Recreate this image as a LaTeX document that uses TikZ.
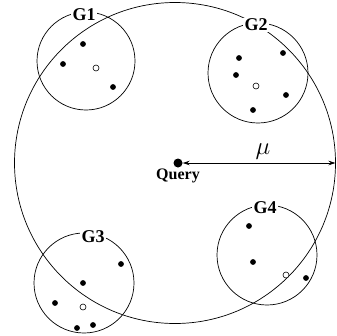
\documentclass[tikz,border=0pt]{standalone}
\usepackage{fontspec}
\setmainfont{Liberation Serif}
\usetikzlibrary{arrows.meta}
\begin{document}
\begin{tikzpicture}[x=1pt,y=-1pt,
  ring/.style={draw,line width=0.7pt},
  pt/.style={circle,fill,inner sep=0pt,minimum size=5.8pt},
  opt/.style={circle,draw,fill=white,line width=0.6pt,inner sep=0pt,minimum size=6pt},
  glabel/.style={fill=white,inner sep=1.2pt,font=\fontsize{18}{18}\selectfont\bfseries}]
\useasboundingbox (0,0) rectangle (337,335);
% big circle
\draw[ring] (175,163) circle (160.5);
% group circles
\draw[ring] (86,61) circle (49);
\draw[ring] (258,73) circle (50);
\draw[ring] (84,283) circle (50);
\draw[ring] (267,255) circle (50);
% labels
\node[glabel] (g1) at (84,15) {G1};
\node[glabel] (g2) at (256,25) {G2};
\node[glabel] (g3) at (93,237) {G3};
\node[glabel] (g4) at (265,208) {G4};
% G1 points
\node[pt] (a1) at (83,44) {};
\node[pt] (a2) at (63,64) {};
\node[pt] (a3) at (113,87) {};
\node[opt] (a0) at (96,68) {};
% G2 points
\node[pt] (b1) at (239,58) {};
\node[pt] (b2) at (283,53) {};
\node[pt] (b3) at (236,75) {};
\node[pt] (b4) at (286,95) {};
\node[pt] (b5) at (253,110) {};
\node[opt] (b0) at (256,86) {};
% G3 points
\node[pt] (c1) at (121,264) {};
\node[pt] (c2) at (83,283) {};
\node[pt] (c3) at (55,303) {};
\node[pt] (c4) at (77,328) {};
\node[pt] (c5) at (93,325) {};
\node[opt] (c0) at (83,307) {};
% G4 points
\node[pt] (d1) at (249,226) {};
\node[pt] (d2) at (253,262) {};
\node[pt] (d3) at (306,278) {};
\node[opt] (d0) at (286,275) {};
% query
\node[circle,fill,inner sep=0pt,minimum size=9pt] (q) at (178,163) {};
\node[font=\fontsize{16}{16}\selectfont\bfseries,anchor=north,inner sep=1pt] (ql) at (178,168) {Query};
\coordinate (re) at (335.5,163);
\draw[line width=0.7pt,{Stealth[length=7pt,width=4.5pt]}-{Stealth[length=7pt,width=4.5pt]}] (q) -- (re);
\node[inner sep=0pt] (mu) at (263,152) {\fontsize{24}{24}\selectfont$\mu$};
\end{tikzpicture}
\end{document}
